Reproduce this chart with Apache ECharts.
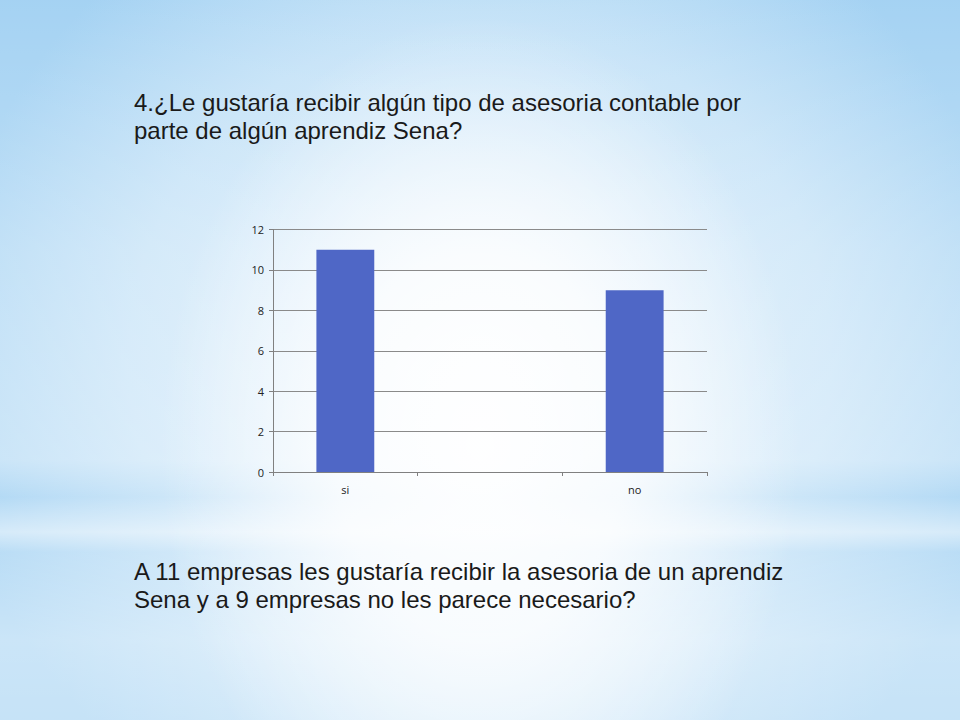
<!DOCTYPE html>
<html>
<head>
<meta charset="utf-8">
<script src="https://cdn.jsdelivr.net/npm/echarts@6/dist/echarts.min.js"></script>
<style>
  html, body { margin: 0; padding: 0; }
  body {
    width: 960px; height: 720px; overflow: hidden;
    background:
      radial-gradient(ellipse 320px 430px at 50% 62%, rgba(255,255,255,0.97) 0%, rgba(255,255,255,0.78) 45%, rgba(255,255,255,0) 100%),
      linear-gradient(180deg,
        rgba(255,255,255,0.05) 0px, rgba(255,255,255,0.3) 250px, rgba(255,255,255,0.4) 460px,
        rgba(255,255,255,0.15) 497px, rgba(255,255,255,0.55) 532px, rgba(255,255,255,0.25) 552px,
        rgba(255,255,255,0.45) 640px, rgba(255,255,255,0.4) 720px),
      radial-gradient(ellipse 540px 520px at 50% 50%, #e6f2fc 0%, #c2e1f7 65%, #a0d0f2 100%);
  }
  #main { width: 960px; height: 720px; }
</style>
</head>
<body>
<div id="main"></div>
<script>
// datos de la diapositiva
var categorias = ['si', '', 'no'];
var valores = [11, '-', 9];
var titulo = '4.¿Le gustaría recibir algún tipo de asesoria contable por\nparte de algún aprendiz Sena?';
var conclusion = 'A 11 empresas les gustaría recibir la asesoria de un aprendiz\nSena y a 9 empresas no les parece necesario?';

var chart = echarts.init(document.getElementById('main'), null, {renderer: 'svg'});
chart.setOption({
    backgroundColor: 'transparent',
    animation: false,
    title: [
        {
            text: titulo,
            left: 134,
            top: 88,
            padding: 0,
            textStyle: {
                fontFamily: 'Liberation Sans',
                fontSize: 24,
                fontWeight: 'normal',
                lineHeight: 28,
                color: '#1a1a1a'
            }
        },
        {
            text: conclusion,
            left: 134,
            top: 557,
            padding: 0,
            textStyle: {
                fontFamily: 'Liberation Sans',
                fontSize: 24,
                fontWeight: 'normal',
                lineHeight: 28,
                color: '#1a1a1a'
            }
        }
    ],
    grid: {
        left: 273,
        right: 253,
        top: 229.5,
        bottom: 248
    },
    xAxis: {
        type: 'category',
        data: categorias,
        axisLine: { lineStyle: { color: '#808080', width: 1 } },
        axisTick: { show: true, length: 4, lineStyle: { color: '#808080' } },
        axisLabel: { color: '#222', fontSize: 11, fontFamily: 'Open Sans', margin: 12 },
        splitLine: { show: false }
    },
    yAxis: {
        type: 'value',
        min: 0,
        max: 12,
        interval: 2,
        axisLine: { show: true, lineStyle: { color: '#808080', width: 1 } },
        axisTick: { show: true, length: 4, lineStyle: { color: '#808080' } },
        axisLabel: { color: '#222', fontSize: 11, fontFamily: 'Open Sans', margin: 9 },
        splitLine: { show: true, lineStyle: { color: '#8a8a8a', width: 1 } }
    },
    series: [{
        type: 'bar',
        data: valores,
        barWidth: '40%',
        itemStyle: { color: '#4f67c6' }
    }]
});
</script>
</body>
</html>
